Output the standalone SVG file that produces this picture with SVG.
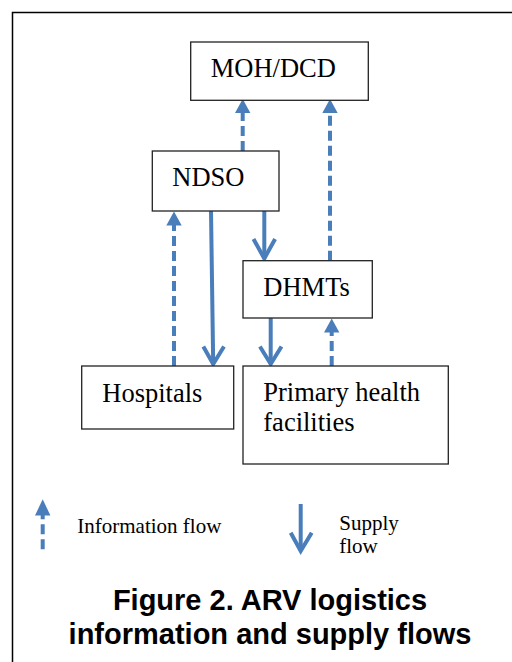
<svg xmlns="http://www.w3.org/2000/svg" width="512" height="662" viewBox="0 0 512 662">
<style>
.box{fill:#fff;stroke:#222;stroke-width:1.3}
.lbl{font-family:"Liberation Serif","Times New Roman",serif;font-size:26.5px;fill:#000}
.leg{font-family:"Liberation Serif","Times New Roman",serif;font-size:21px;fill:#000}
.title{font-family:"Liberation Sans",Arial,sans-serif;font-size:29px;font-weight:bold;fill:#000;text-anchor:middle}
.info{stroke:#4a7ebb;stroke-width:4;fill:none;stroke-dasharray:10,5}
.sup{stroke:#4a7ebb;stroke-width:4;fill:none}
.head{fill:#4a7ebb}
.vhead{stroke:#4a7ebb;stroke-width:4;fill:none;stroke-linejoin:miter}
</style>
<rect x="0" y="0" width="512" height="662" fill="#fff"/>
<rect x="12.5" y="12.5" width="520" height="670" fill="none" stroke="#000" stroke-width="1.5"/>
<g id="connectors">
  <!-- NDSO -> MOH info -->
  <line class="info" x1="242.7" y1="151" x2="242.7" y2="112"/>
  <polygon class="head" points="242.7,99 235,113 250.4,113"/>
  <!-- DHMTs -> MOH info -->
  <line class="info" x1="330" y1="260.7" x2="330" y2="112"/>
  <polygon class="head" points="330,99 322.3,113 337.7,113"/>
  <!-- Hospitals -> NDSO info -->
  <line class="info" x1="174" y1="366" x2="174" y2="224"/>
  <polygon class="head" points="174,211.5 166.3,225.5 181.7,225.5"/>
  <!-- Primary -> DHMTs info -->
  <line class="info" x1="331.7" y1="366" x2="331.7" y2="331"/>
  <polygon class="head" points="331.7,318.5 324,332.5 339.4,332.5"/>
  <!-- NDSO -> Hospitals supply -->
  <line class="sup" x1="211" y1="211" x2="213.2" y2="364"/>
  <polyline class="vhead" points="203.3,346.5 213.2,364 224,346.5"/>
  <!-- NDSO -> DHMTs supply -->
  <line class="sup" x1="264.3" y1="211" x2="264.3" y2="258.5"/>
  <polyline class="vhead" points="253.5,239 264.3,258.5 275.1,239"/>
  <!-- DHMTs -> Primary supply -->
  <line class="sup" x1="270.7" y1="318" x2="270.7" y2="364"/>
  <polyline class="vhead" points="259.9,346.5 270.7,364 281.5,346.5"/>
</g>
<g id="moh">
  <rect class="box" x="190.7" y="42" width="177.6" height="58.3"/>
  <text class="lbl" x="210.7" y="77.3">MOH/DCD</text>
</g>
<g id="ndso">
  <rect class="box" x="152.3" y="151" width="126.7" height="60"/>
  <text class="lbl" x="172.3" y="185.7">NDSO</text>
</g>
<g id="dhmts">
  <rect class="box" x="243" y="260.7" width="129.3" height="57.3"/>
  <text class="lbl" x="263.3" y="296">DHMTs</text>
</g>
<g id="hospitals">
  <rect class="box" x="81.7" y="366" width="152" height="63"/>
  <text class="lbl" x="102.3" y="402">Hospitals</text>
</g>
<g id="primary">
  <rect class="box" x="243" y="366" width="205.3" height="98"/>
  <text class="lbl" x="263.3" y="400.7">Primary health</text>
  <text class="lbl" x="263.3" y="431.3">facilities</text>
</g>
<g id="legend">
  <line class="info" x1="42.7" y1="549.3" x2="42.7" y2="514"/>
  <polygon class="head" points="42.7,499.3 35,515.5 50.4,515.5"/>
  <text class="leg" x="77.3" y="533.3">Information flow</text>
  <line class="sup" x1="300.7" y1="504" x2="300.7" y2="551"/>
  <polyline class="vhead" points="290.7,532.7 300.7,551 311.7,532.7"/>
  <text class="leg" x="339.3" y="530">Supply</text>
  <text class="leg" x="339.3" y="552.7">flow</text>
</g>
<g id="caption">
  <text class="title" x="270" y="610">Figure 2. ARV logistics</text>
  <text class="title" x="270" y="644">information and supply flows</text>
</g>
</svg>
